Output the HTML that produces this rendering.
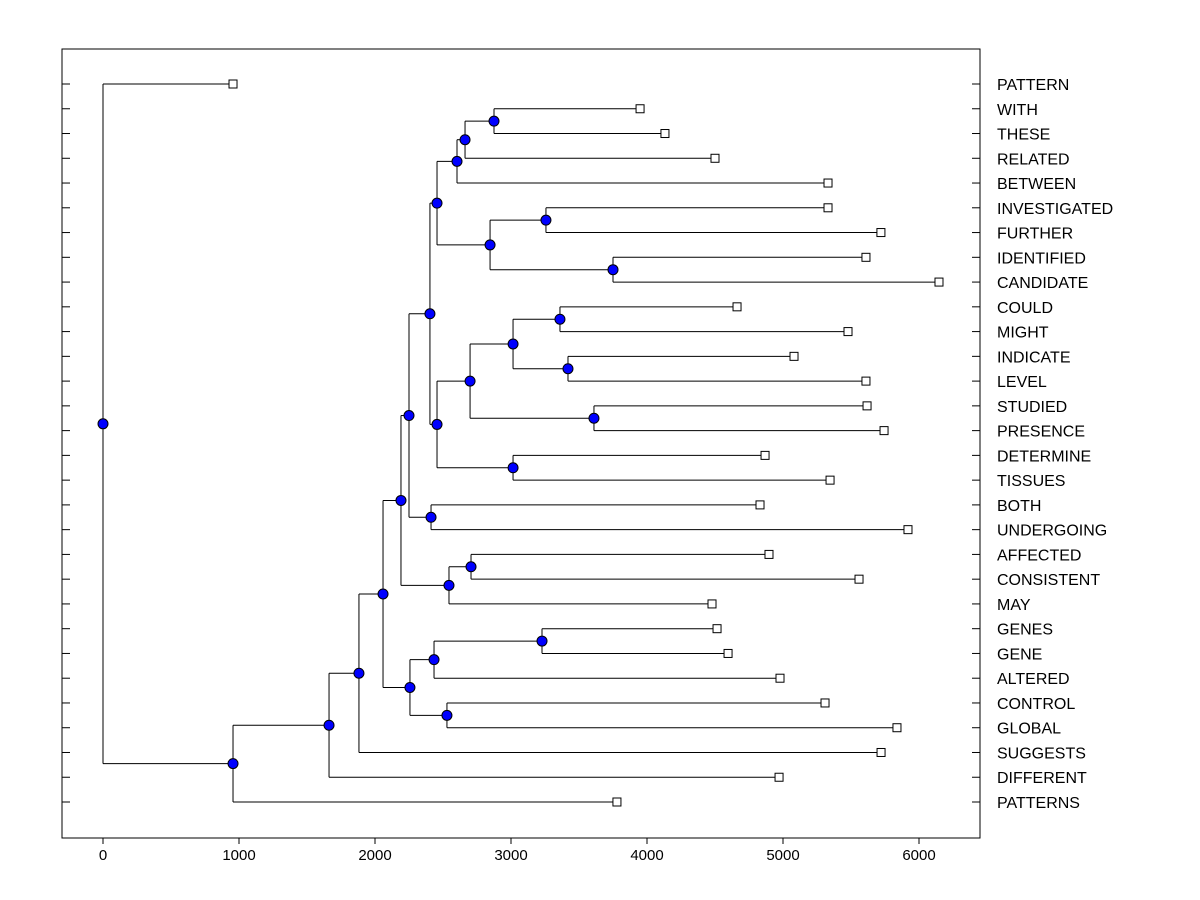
<!DOCTYPE html>
<html><head><meta charset="utf-8"><style>
body{margin:0;background:#fff;}
svg{display:block;font-family:"Liberation Sans",Arial,sans-serif;}
</style></head><body>
<svg id="chart" width="1200" height="900"></svg>
<script>
const leafNames=["PATTERN","WITH","THESE","RELATED","BETWEEN","INVESTIGATED","FURTHER","IDENTIFIED","CANDIDATE","COULD","MIGHT","INDICATE","LEVEL","STUDIED","PRESENCE","DETERMINE","TISSUES","BOTH","UNDERGOING","AFFECTED","CONSISTENT","MAY","GENES","GENE","ALTERED","CONTROL","GLOBAL","SUGGESTS","DIFFERENT","PATTERNS"];
const leafValues=[956,3949,4132,4500,5331,5331,5720,5610,6147,4662,5478,5081,5610,5618,5743,4868,5346,4831,5919,4897,5559,4478,4515,4596,4978,5309,5838,5721,4971,3779];
const mergeHeights=[2875,2662,2603,3257,3750,2846,2456,3360,3419,3015,3610,2699,3015,2456,2404,2412,2250,2706,2544,2191,3228,2434,2529,2257,2059,1882,1662,956,0];
const mergeLeft =[1,"n0","n1",5,7,"n3","n2",9,11,"n7",13,"n9",15,"n11","n6",17,"n14",19,"n17","n16",22,"n20",25,"n21","n19","n24","n25","n26",0];
const mergeRight=[2,3,4,6,8,"n4","n5",10,12,"n8",14,"n10",16,"n12","n13",18,"n15",20,21,"n18",23,24,26,"n22","n23",27,28,29,"n27"];
const xTicks=[0,1000,2000,3000,4000,5000,6000];

const svg=document.getElementById('chart');
const NS="http://www.w3.org/2000/svg";
const L=62,R=980,T=49,B=838;
const xS=v=>103+v*0.136;
const yS=i=>84+i*(802-84)/29;
function el(tag,attrs,name,inter){const e=document.createElementNS(NS,tag);for(const k in attrs)e.setAttribute(k,attrs[k]);


svg.appendChild(e);return e;}
el('rect',{x:L,y:T,width:R-L,height:B-T,fill:'#fff',stroke:'#000','stroke-width':1},'plot-frame',false);
xTicks.forEach(v=>{const x=xS(v);
 el('line',{x1:x,y1:B,x2:x,y2:B+6,stroke:'#000'},'x-tick',false);
 const t=el('text',{x:x,y:B+22,'text-anchor':'middle','font-size':15},'x-tick-label',false);t.textContent=v;});
leafNames.forEach((n,i)=>{const y=yS(i);
 el('line',{x1:L,y1:y,x2:L+8,y2:y,stroke:'#000'},'y-tick-left',false);
 el('line',{x1:R-8,y1:y,x2:R,y2:y,stroke:'#000'},'y-tick-right',false);
 const t=el('text',{x:997,y:y+6,'font-size':16},'leaf-label',false);t.textContent=n;});
const pos={};
function get(c){if(typeof c==='number')return {x:xS(leafValues[c]),y:yS(c)};return pos[c];}
const nodes=[];
mergeHeights.forEach((h,i)=>{const a=get(mergeLeft[i]),b=get(mergeRight[i]);const x=xS(h),y=(a.y+b.y)/2;
 el('line',{x1:x,y1:a.y,x2:x,y2:b.y,stroke:'#000'},'branch-vertical',false);
 el('line',{x1:x,y1:a.y,x2:a.x,y2:a.y,stroke:'#000'},'branch-horizontal',false);
 el('line',{x1:x,y1:b.y,x2:b.x,y2:b.y,stroke:'#000'},'branch-horizontal',false);
 pos["n"+i]={x:x,y:y};nodes.push({x:x,y:y});});
leafValues.forEach((v,i)=>{el('rect',{x:xS(v)-4,y:yS(i)-4,width:8,height:8,fill:'#fff',stroke:'#000'},'leaf-marker',false);});
nodes.forEach(n=>{el('circle',{cx:n.x,cy:n.y,r:5,fill:'#0000ff',stroke:'#000'},'node-marker',false);});
</script>
</body></html>
